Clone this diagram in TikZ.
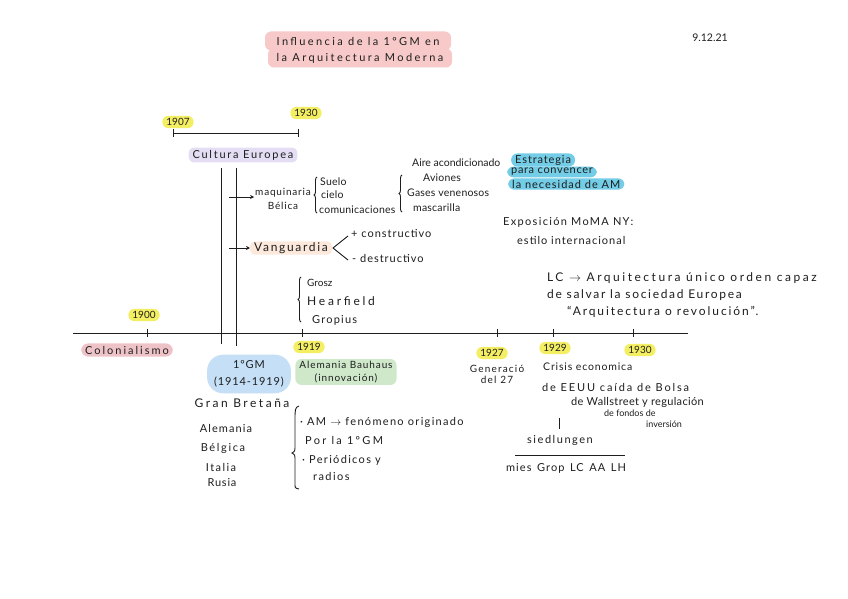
\documentclass[tikz,border=0pt]{standalone}
\usepackage{fontspec}
\setmainfont{Lato}
\newfontfamily\hA{Lato}
\newcommand\hf[2]{\hA\fontsize{#1}{15}\selectfont\addfontfeature{LetterSpace=#2}}
\usetikzlibrary{arrows.meta,decorations.pathreplacing,calc}
\definecolor{ink}{HTML}{1E1E1E}
\definecolor{hlyel}{HTML}{F4EE62}
\definecolor{hlpink}{HTML}{F7C9C9}
\definecolor{hlrose}{HTML}{EEC3C7}
\definecolor{hllav}{HTML}{E4DDF4}
\definecolor{hlblue}{HTML}{74CDE6}
\definecolor{hlcloud}{HTML}{C4DFF6}
\definecolor{hlgreen}{HTML}{CFE8CA}
\definecolor{hlpeach}{HTML}{FCE9DC}
\begin{document}
\begin{tikzpicture}[x=1pt,y=-1pt,
  hand/.style={font=\hf{10}{0}, inner sep=1pt, text=ink},
  hl/.style={rounded corners=6pt, inner xsep=4pt, inner ysep=2.5pt},
  yel/.style={hand, hl, fill=hlyel},
  line/.style={draw=ink, line width=0.9pt},
  arr/.style={line, -{Stealth[length=4pt,width=4pt]}},
  brace/.style={line, decorate, decoration={brace, amplitude=3pt}},
]
\useasboundingbox (0,0) rectangle (848,599);
\fill[white] (0,0) rectangle (848,599);

% title
\node[hand, hl, fill=hlpink, minimum width=186pt, minimum height=19pt, font=\hf{11}{22}] (t1) at (358,41) {Influencia de la 1ºGM en};
\node[hand, hl, fill=hlpink, minimum width=184pt, minimum height=19pt, font=\hf{11}{22}] (t2) at (360,58) {la Arquitectura Moderna};
\node[hand, font=\hf{10.5}{0}] (date) at (710,38) {9.12.21};

% 1907 - 1930
\node[yel] (y1907) at (178,122) {1907};
\node[yel] (y1930a) at (306,113) {1930};
\coordinate (b1) at (173,133);
\coordinate (b2) at (298,133);
\draw[line] (b1) -- (b2);
\draw[line] ($(b1)+(0,-4)$) -- ($(b1)+(0,4)$);
\draw[line] ($(b2)+(0,-4)$) -- ($(b2)+(0,4)$);
\node[hand, hl, fill=hllav, font=\hf{11}{16}] (cult) at (243,155) {Cultura Europea};

% war lines
\coordinate (v1t) at (221,168); \coordinate (v1b) at (221,344);
\coordinate (v2t) at (236,168); \coordinate (v2b) at (236,346);
\draw[line] (v1t) -- (v1b);
\draw[line] (v2t) -- (v2b);

% maquinaria belica
\node[hand, align=center, font=\hf{10}{8}\linespread{0.9}\selectfont] (maq) at (283,199) {maquinaria\\Bélica};
\coordinate (a1) at (229,197);
\draw[arr] (a1) -- (maq.west|-a1);
\coordinate (br1t) at (317,177); \coordinate (br1b) at (317,213);
\draw[brace] (br1b) -- (br1t);
\node[hand, anchor=west, font=\hf{10.5}{2}] (suelo) at (319,182) {Suelo};
\node[hand, anchor=west, font=\hf{10.5}{2}] (cielo) at (320,195) {cielo};
\node[hand, anchor=west, font=\hf{10.5}{2}] (comu) at (318,210) {comunicaciones};
\coordinate (br2t) at (402,175); \coordinate (br2b) at (402,212);
\draw[brace] (br2b) -- (br2t);
\node[hand, anchor=west, font=\hf{10.5}{0}] (aire) at (411,163) {Aire acondicionado};
\node[hand, anchor=west, font=\hf{10.5}{2}] (avio) at (422,178) {Aviones};
\node[hand, anchor=west, font=\hf{10.5}{2}] (gases) at (406,193) {Gases venenosos};
\node[hand, anchor=west, font=\hf{10.5}{2}] (masc) at (412,208) {mascarilla};

% estrategia
\node[hand, hl, fill=hlblue, anchor=west, inner ysep=1.5pt, font=\hf{11}{8}] (estr) at (511,160) {Estrategia};
\node[hand, hl, fill=hlblue, anchor=west, inner ysep=1.5pt, font=\hf{11}{6}] (para) at (507,172) {para convencer};
\node[hand, hl, fill=hlblue, anchor=west, inner ysep=1.5pt, font=\hf{11}{9}] (nece) at (508,184) {la necesidad de AM};

% vanguardia
\node[hand, hl, fill=hlpeach, rounded corners=4pt, inner ysep=1pt, font=\hf{12}{14}] (vang) at (291,248) {Vanguardia};
\coordinate (a2) at (229,248);
\draw[arr] (a2) -- (vang.west|-a2);
\coordinate (lt) at (333,248);
\coordinate (ltu) at (348,236);
\coordinate (ltd) at (348,260);
\draw[line] (ltu) -- (lt) -- (ltd);
\node[hand, anchor=west, font=\hf{11}{9}] (cons) at (350,234) {+ constructivo};
\node[hand, anchor=west, font=\hf{11}{9}] (dest) at (351,258) {- destructivo};

% exposicion
\node[hand, anchor=west, font=\hf{11}{12}] (expo) at (502,222) {Exposición MoMA NY:};
\node[hand, anchor=west, font=\hf{11}{9}] (estilo) at (516,240) {estilo internacional};

% grosz etc
\coordinate (br3t) at (301,277); \coordinate (br3b) at (301,322);
\draw[brace] (br3b) -- (br3t);
\node[hand, anchor=west] (grosz) at (306,283) {Grosz};
\node[hand, anchor=west, font=\hf{12}{23}] (heart) at (306,301) {Hearfield};
\node[hand, anchor=west, font=\hf{11}{11}] (grop) at (311,320) {Gropius};

% LC
\node[hand, anchor=west, font=\hf{12}{21}] (lc) at (546,278) {LC $\rightarrow$ Arquitectura único orden capaz};
\node[hand, anchor=west, font=\hf{12}{14}] (salv) at (546,295) {de salvar la sociedad Europea};
\node[hand, anchor=west, font=\hf{12}{16}] (arq) at (566,312) {“Arquitectura o revolución”.};

% axis
\coordinate (ax1) at (73,333); \coordinate (ax2) at (688,333);
\draw[line] (ax1) -- (ax2);
\foreach \n/\x in {k1900/147, k1919/302, k1927/497, k1929/553, k1930/633} {
  \coordinate (\n) at (\x,333);
  \draw[line] ($(\n)+(0,-4)$) -- ($(\n)+(0,4)$);
}
\node[yel] (y1900) at (144,315) {1900};
\node[hand, hl, fill=hlrose, rounded corners=7pt, font=\hf{11}{18}] (colo) at (127,350) {Colonialismo};

\node[yel] (y1919) at (309,347) {1919};
\node[hand, hl, fill=hlgreen, align=center, inner ysep=2pt, font=\hA\fontsize{10}{13}\selectfont\addfontfeature{LetterSpace=9}] (bau) at (346,372) {Alemania Bauhaus\\(innovación)};

\node[hand, fill=hlcloud, rounded corners=16pt, align=center, inner xsep=7pt, inner ysep=6pt, font=\hA\fontsize{11}{17}\selectfont\addfontfeature{LetterSpace=8}] (gm) at (249,374) {1ºGM\\(1914-1919)};

\node[yel] (y1927) at (492,353) {1927};
\node[hand, align=center, font=\hA\fontsize{10}{11}\selectfont\addfontfeature{LetterSpace=12}] (gen) at (497,374) {Generació\\del 27};
\node[yel] (y1929) at (555,348) {1929};
\node[yel] (y1930b) at (640,350) {1930};

\node[hand, anchor=west, font=\hf{10.5}{8}] (cris) at (542,367) {Crisis economica};
\node[hand, anchor=west, font=\hf{11}{17}] (eeuu) at (541,387) {de EEUU caída de Bolsa};
\node[hand, anchor=west, font=\hf{11}{3}] (wall) at (570,402) {de Wallstreet y regulación};
\node[hand, anchor=west, font=\hf{9}{0}] (fond) at (603,413) {de fondos de};
\node[hand, anchor=west, font=\hf{9}{0}] (inv) at (645,424) {inversión};

\coordinate (s1) at (559,418); \coordinate (s2) at (559,429);
\draw[line] (s1) -- (s2);
\node[hand, font=\hf{11}{14}] (sied) at (560,440) {siedlungen};
\coordinate (h1) at (515,455); \coordinate (h2) at (625,455);
\draw[line] (h1) -- (h2);
\node[hand, font=\hf{11}{10}] (mies) at (566,468) {mies\enspace Grop\enspace LC\enspace AA\enspace LH};

% countries
\node[hand, font=\hf{12}{21}] (gran) at (242,403) {Gran Bretaña};
\node[hand, font=\hf{11}{10}] (alem) at (226,428) {Alemania};
\node[hand, font=\hf{11}{15}] (belg) at (223,448) {Bélgica};
\node[hand, font=\hf{11}{13}] (ital) at (221,467) {Italia};
\node[hand, font=\hf{11}{7}] (rusi) at (222,483) {Rusia};
\coordinate (br4t) at (299,406);
\coordinate (br4m) at (292,453);
\coordinate (br4b) at (299,489);
\draw[line] (br4t) .. controls (295,407) and (295,410) .. (295,420) -- (295,448)
  .. controls (295,451) .. (br4m) .. controls (295,455) .. (295,458) -- (295,484)
  .. controls (295,488) .. (br4b);
\node[hand, anchor=west, font=\hf{11}{12}] (am) at (299,422) {· AM $\rightarrow$ fenómeno originado};
\node[hand, anchor=west, font=\hf{11}{21}] (por) at (304,440) {Por la 1ºGM};
\node[hand, anchor=west, font=\hf{11}{12}] (peri) at (301,460) {· Periódicos y};
\node[hand, anchor=west, font=\hf{11}{13}] (radi) at (312,476) {radios};
\end{tikzpicture}
\end{document}
